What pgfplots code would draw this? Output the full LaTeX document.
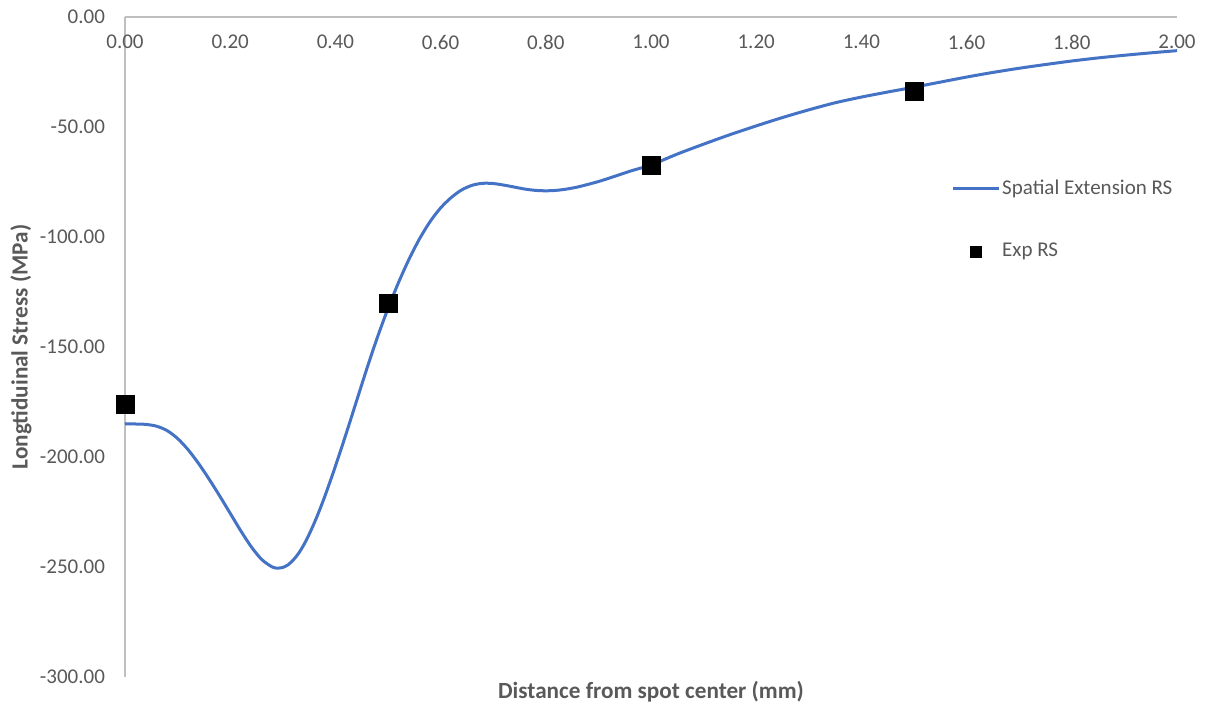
\documentclass[border=0pt]{standalone}
\usepackage{pgfplots}
\pgfplotsset{compat=1.18}
\usepackage{pgfplotstable}
\usepackage{fontspec}
\setmainfont{Carlito}

\definecolor{txtgray}{HTML}{595959}
\definecolor{axgray}{HTML}{BFBFBF}
\definecolor{lineblue}{HTML}{4472C4}

% Modelled residual stress profile (spatial extension)
\pgfplotstableread{
x      y
0.00  -185.0
0.02  -185.0
0.04  -185.2
0.06  -186.0
0.08  -188.0
0.10  -191.6
0.12  -196.7
0.14  -203.0
0.16  -210.1
0.18  -217.7
0.20  -225.6
0.22  -233.5
0.24  -240.8
0.26  -246.6
0.28  -250.0
0.29  -250.5
0.30  -250.2
0.31  -249.0
0.32  -246.8
0.33  -243.8
0.34  -239.9
0.35  -235.2
0.36  -229.9
0.37  -224.1
0.38  -217.8
0.39  -211.1
0.40  -204.2
0.42  -189.7
0.44  -174.7
0.46  -159.7
0.48  -145.5
0.50  -132.5
0.52  -120.7
0.54  -110.1
0.56  -100.8
0.58  -93.0
0.60  -86.8
0.62  -82.1
0.64  -78.6
0.66  -76.5
0.68  -75.6
0.70  -75.7
0.72  -76.4
0.74  -77.3
0.76  -78.2
0.78  -78.8
0.80  -79.0
0.82  -78.8
0.84  -78.2
0.86  -77.3
0.88  -76.1
0.90  -74.8
0.92  -73.3
0.94  -71.7
0.96  -70.1
0.98  -68.7
1.00  -67.3
1.05  -62.3
1.10  -57.8
1.15  -53.5
1.20  -49.5
1.25  -45.7
1.30  -42.2
1.35  -39.0
1.40  -36.4
1.45  -34.1
1.50  -31.9
1.55  -29.6
1.60  -27.3
1.65  -25.2
1.70  -23.3
1.75  -21.6
1.80  -20.0
1.85  -18.6
1.90  -17.4
1.95  -16.3
2.00  -15.3
}\spatialRS

% Measured residual stress
\pgfplotstableread{
x    y
0.0  -176
0.5  -130
1.0  -67.5
1.5  -34
}\expRS

\begin{document}
\begin{tikzpicture}
\useasboundingbox (0,0) rectangle (606pt,356pt);
\begin{axis}[
  at={(62.5pt,17.5pt)}, anchor=south west,
  width=526pt, height=330pt, scale only axis,
  xmin=0, xmax=2, ymin=-300, ymax=0,
  clip=false,
  axis x line*=top, axis y line*=left,
  axis line style={axgray, line width=0.9pt},
  xtick={0,0.2,0.4,0.6,0.8,1.0,1.2,1.4,1.6,1.8,2.0},
  ytick={-300,-250,-200,-150,-100,-50,0},
  major tick length=0pt,
  tick style={draw=none},
  /pgf/number format/fixed,
  /pgf/number format/fixed zerofill,
  /pgf/number format/precision=2,
  /pgf/number format/assume math mode=true,
  ticklabel style={font=\fontsize{10.5}{12.6}\selectfont, text=txtgray},
  xticklabel style={anchor=center, yshift=-12.5pt},
  yticklabel style={anchor=east, xshift=-6.5pt},
  xlabel={Distance from spot center (mm)},
  ylabel={Longtiduinal Stress (MPa)},
  label style={font=\bfseries\fontsize{11.6}{13.9}\selectfont, text=txtgray},
  xlabel style={at={([yshift=-7.5pt]axis description cs:0.5,0)}, anchor=center},
  ylabel style={at={([xshift=-52pt]axis description cs:0,0.5)}, anchor=center},
  legend cell align=left,
  legend image code/.code={\draw[mark repeat=2,mark phase=2,#1] plot coordinates {(0pt,0pt) (11.5pt,0pt) (23pt,0pt)};},
  legend style={at={(axis description cs:0.785,0.757)}, anchor=north west,
    draw=none, fill=none, inner sep=0pt, row sep=21pt,
    font=\fontsize{10.5}{12.6}\selectfont, text=txtgray,
    nodes={inner sep=1pt}},
]
\addplot[lineblue, line width=1.5pt, smooth] table[x=x, y=y] {\spatialRS};
\addlegendentry{Spatial Extension RS}
\addplot[only marks, mark=square*, mark size=4.5pt, black,
  legend image post style={mark size=2.75pt}] table[x=x, y=y] {\expRS};
\addlegendentry{Exp RS}
\end{axis}
\end{tikzpicture}
\end{document}
